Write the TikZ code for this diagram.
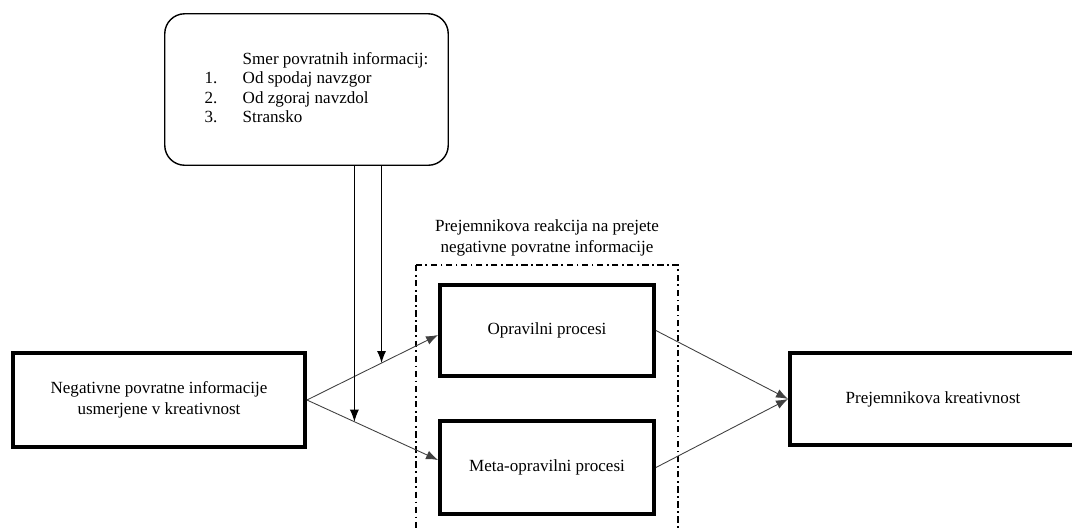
\documentclass[tikz,border=0pt]{standalone}
\usepackage{fontspec}
\setmainfont{Liberation Serif}
\usepackage{tikz}
\usetikzlibrary{positioning, arrows.meta, calc}
\tikzset{
  blok/.style={rectangle, minimum width=4.28cm, minimum height=1.84cm, text centered, draw=black, line width=2.2pt, font=\fontsize{9.7}{11.9}\selectfont},
  opomba/.style={rectangle, rounded corners=0.4cm, minimum width=5.67cm, minimum height=3.03cm, draw=black, line width=0.8pt, font=\fontsize{9.7}{11.1}\selectfont},
  skupina/.style={draw=black, line width=0.7pt, dash pattern=on 3.6pt off 2pt on 1pt off 2pt},
  puscica/.style={draw=black!75, line width=0.5pt, -{Latex[length=2.4mm,width=1.8mm]}},
  vpuscica/.style={draw=black, line width=0.6pt, -{Latex[length=2.4mm,width=1.8mm]}}
}

\begin{document}
\begin{tikzpicture}
    % Okvir slike (1072 x 529)
    \clip (0,0) rectangle (21.44,-10.58);

    % Okvir za reakcijo prejemnika
    \draw[skupina] (8.32,-5.3) rectangle (13.56,-11);
    \node[align=center, font=\fontsize{9.7}{11.9}\selectfont] (reakcija) at (10.94,-4.76)
        {Prejemnikova reakcija na prejete\\negativne povratne informacije};

    % Glavni bloki
    \node[blok, minimum width=5.84cm, minimum height=1.88cm, align=center] (neg) at (3.18,-8.0)
        {Negativne povratne informacije\\usmerjene v kreativnost};
    \node[blok, minimum height=1.82cm] (opr) at (10.94,-6.61) {Opravilni procesi};
    \node[blok, minimum height=1.86cm] (meta) at (10.94,-9.35) {Meta-opravilni procesi};
    \node[blok, minimum width=5.72cm] (prej) at (18.66,-7.98) {Prejemnikova kreativnost};

    % Smer povratnih informacij
    \node[opomba] (smer) at (6.13,-1.79) {%
        \hspace{0.4cm}\raisebox{-0.08cm}{%
        \begin{tabular}{@{}p{0.76cm}@{}l@{}}
          & Smer povratnih informacij:\\
        1. & Od spodaj navzgor\\
        2. & Od zgoraj navzdol\\
        3. & Stransko
        \end{tabular}}};

    % Puscice iz levega bloka
    \coordinate (oprvhod) at ([yshift=-0.09cm]opr.west);
    \coordinate (metavhod) at ([yshift=0.15cm]meta.west);
    \draw[puscica] (neg.east) -- (oprvhod);
    \draw[puscica] (neg.east) -- (metavhod);

    % Tocki, kjer se vpliv smeri stika s puscicama
    \coordinate (zgornja) at ($(neg.east)!0.569!(oprvhod)$);
    \coordinate (spodnja) at ($(neg.east)!0.362!(metavhod)$);
    \draw[vpuscica] (zgornja |- smer.south) -- (zgornja);
    \draw[vpuscica] (spodnja |- smer.south) -- (spodnja);

    % Puscice proti kreativnosti
    \draw[puscica] (opr.east) -- (prej.west);
    \draw[puscica] (meta.east) -- (prej.west);
\end{tikzpicture}
\end{document}
